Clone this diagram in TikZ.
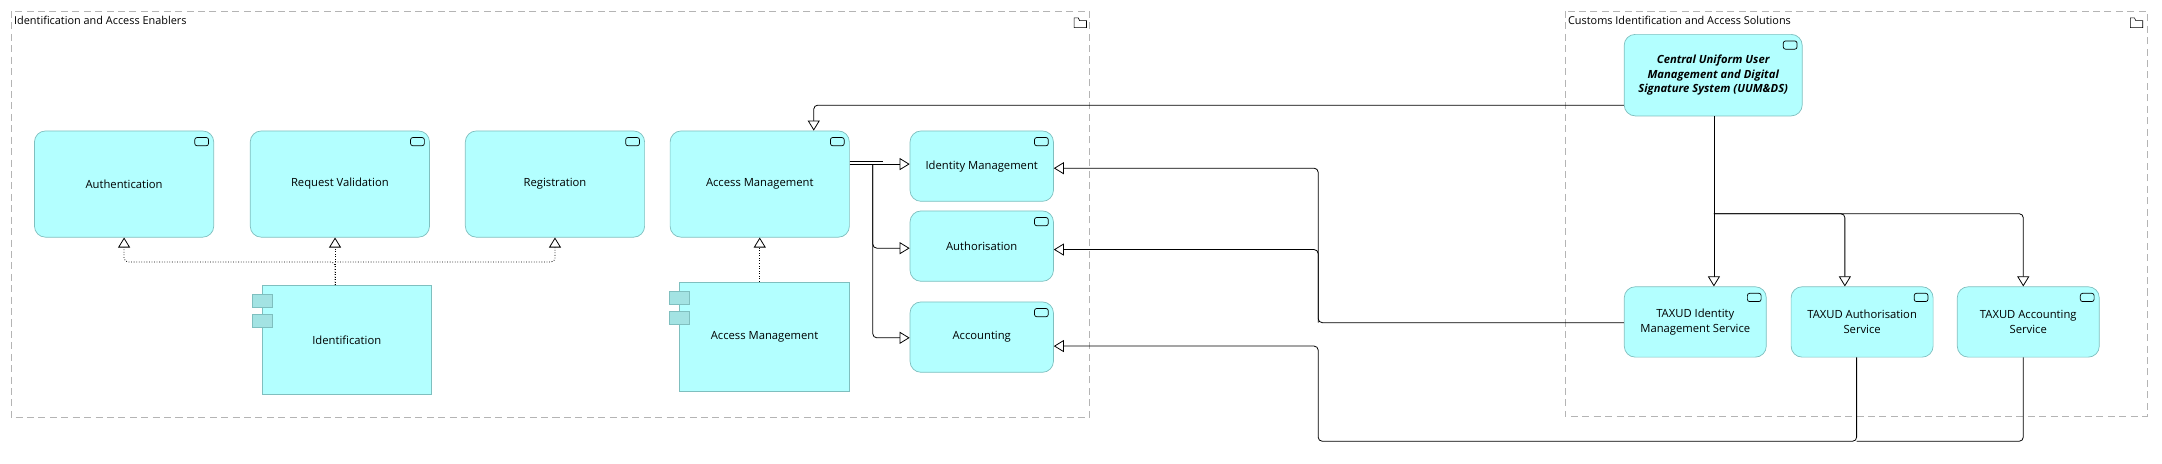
\documentclass[tikz,border=0pt]{standalone}
\usepackage{fontspec}
\setmainfont{Open Sans}
\usetikzlibrary{calc}
\usetikzlibrary{arrows.meta}

\definecolor{svcfill}{HTML}{B3FFFF}
\definecolor{svcline}{HTML}{7FBFBF}
\definecolor{tabfill}{HTML}{A3E3E3}
\definecolor{grpline}{HTML}{B4B4B4}

\tikzset{
  svc/.style={draw=svcline,fill=svcfill,rounded corners=2.2mm,align=center,
    font=\fontsize{6.4}{8.2}\selectfont,inner sep=1pt},
  comp/.style={draw=svcline,fill=svcfill,align=center,font=\fontsize{6.4}{8.2}\selectfont},
  tab/.style={draw=svcline,fill=tabfill},
  icon/.style={draw=black,line width=0.4pt,rounded corners=1.3pt},
  grp/.style={draw=grpline,dashed,dash pattern=on 4pt off 2.5pt,line width=0.4pt},
  spec/.style={draw=black,line width=0.45pt,rounded corners=0.8mm,
    -{Triangle[open,length=2mm,width=2.4mm,fill=white]}},
  real/.style={spec,densely dotted}
}

\begin{document}
\begin{tikzpicture}[x=0.02758cm,y=-0.02758cm]
    \useasboundingbox (0,0) rectangle (1568,336);
    % Groups
    \draw[grp] (8,8) rectangle (790,303);
    \draw[grp] (1135,8) rectangle (1557,302);
    \node[anchor=west,font=\fontsize{6.2}{8}\selectfont,inner sep=0pt] (g1t) at (10,15) {Identification and Access Enablers};
    \node[anchor=west,font=\fontsize{6.2}{8}\selectfont,inner sep=0pt] (g2t) at (1137,15) {Customs Identification and Access Solutions};
    \foreach \fx in {779,1545} {
        \draw[black,line width=0.35pt] (\fx,13) -- (\fx,20) -- (\fx+9,20) -- (\fx+9,15) -- (\fx+4,15) -- (\fx+3,13) -- cycle;
    }
    % Business functions
    \node[svc,minimum width=3.585cm,minimum height=2.124cm] (auth) at (90,133.5) {Authentication};
    \node[svc,minimum width=3.585cm,minimum height=2.124cm] (reqv) at (246.5,133.5) {Request Validation};
    \node[svc,minimum width=3.585cm,minimum height=2.124cm] (reg) at (402.5,133.5) {Registration};
    \node[svc,minimum width=3.585cm,minimum height=2.124cm] (acm) at (551,133.5) {Access Management};
    \node[svc,minimum width=2.868cm,minimum height=1.407cm] (idm) at (712,120.5) {Identity Management};
    \node[svc,minimum width=2.868cm,minimum height=1.407cm] (atr) at (712,178.5) {Authorisation};
    \node[svc,minimum width=2.868cm,minimum height=1.407cm] (acc) at (712,244.5) {Accounting};
    % Components
    \node[comp,minimum width=3.392cm,minimum height=2.179cm] (idc) at (251.5,246.5) {Identification};
    \node[comp,minimum width=3.392cm,minimum height=2.179cm] (amc) at (554.5,244) {Access Management};
    % Customs side
    \node[svc,minimum width=3.56cm,minimum height=1.63cm,font=\fontsize{6.4}{8.2}\selectfont\bfseries\itshape] (uum) at (1242.5,54.5)
        {Central Uniform User\\Management and Digital\\Signature System (UUM\&DS)};
    \node[svc,minimum width=2.84cm,minimum height=1.407cm] (tidm) at (1229.5,233.5) {TAXUD Identity\\Management Service};
    \node[svc,minimum width=2.84cm,minimum height=1.407cm] (tatr) at (1350.5,233.5) {TAXUD Authorisation\\Service};
    \node[svc,minimum width=2.84cm,minimum height=1.407cm] (tacc) at (1471,233.5) {TAXUD Accounting\\Service};
    % Icons
    \foreach \n in {auth,reqv,reg,acm,idm,atr,acc,uum,tidm,tatr,tacc} {
        \draw[icon] ($(\n.north east)+(-14,5)$) rectangle ++(10,6);
    }
    \foreach \n in {idc,amc} {
        \draw[tab] ($(\n.north west)+(-7,7)$) rectangle ++(14.5,9.4);
        \draw[tab] ($(\n.north west)+(-7,21.5)$) rectangle ++(14.5,9.4);
    }
    % Realisations
    \coordinate (idj) at (243,190);
    \draw[real] (idc.north -| idj) -- (idj) -| (auth.south);
    \draw[real] (idc.north -| idj) -- (reqv.south -| idj);
    \draw[real] (idj) -| (reg.south);
    \draw[real] (amc.north -| acm) -- (acm.south);
    % Specialisations inside the enablers
    \coordinate (amj) at (633,119);
    \draw[spec] (acm.east |- amj) -- (idm.west |- amj);
    \draw[line width=0.45pt] ([yshift=0.055cm]acm.east |- amj) -- ++(24,0);
    \draw[spec] (amj) |- (atr.west |- 0,180);
    \draw[spec] (amj) |- (acc.west |- 0,245);
    % From UUM&DS
    \draw[spec] ([yshift=-0.6cm]uum.west) -| ([xshift=1.08cm]acm.north);
    \coordinate (uj) at (1243,155);
    \draw[spec] (uum.south -| uj) -- (tidm.north -| uj);
    \draw[spec] (uj) -| ([xshift=-0.345cm]tatr.north);
    \draw[spec] (uj) -| ([xshift=-0.1cm]tacc.north);
    % TAXUD services to enablers
    \coordinate (bus) at (956,320);
    \draw[spec] (tidm.west |- 0,234) -| (bus |- 0,122) -- (idm.east |- 0,122);
    \draw[spec] (bus |- 0,234) |- (atr.east |- 0,181);
    \draw[spec] ([xshift=-0.11cm]tatr.south) |- (bus) |- (acc.east |- 0,251);
    \draw[line width=0.45pt,rounded corners=0.8mm] ([xshift=-0.1cm]tacc.south) |- ([xshift=-0.11cm]tatr.south |- bus);
\end{tikzpicture}
\end{document}
